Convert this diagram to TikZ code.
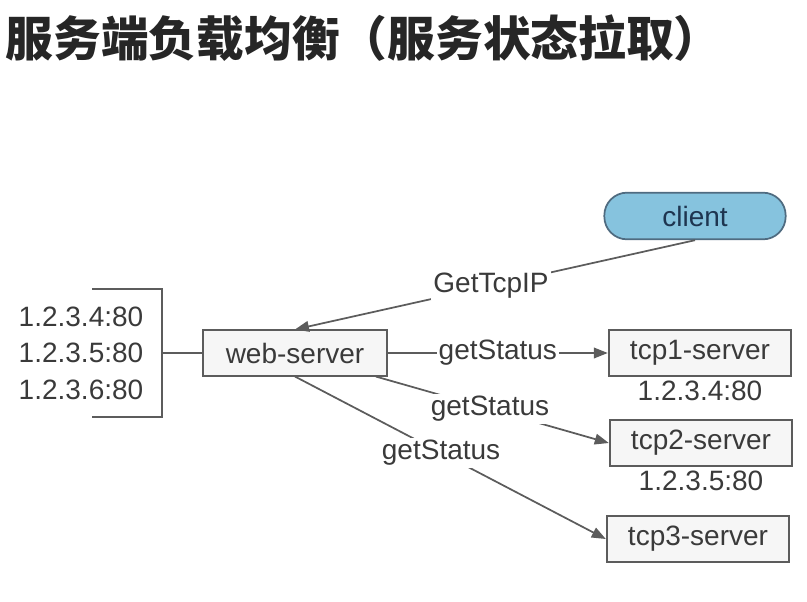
\documentclass[tikz,border=0pt]{standalone}
\usepackage{fontspec}
\setmainfont{Liberation Sans}
\newfontfamily\cjk{Noto Sans CJK SC}
\usetikzlibrary{arrows.meta,positioning}
\definecolor{inkCol}{HTML}{3A3A3A}
\definecolor{lineCol}{HTML}{5C5C5C}
\definecolor{boxCol}{HTML}{F6F6F6}
\definecolor{clientCol}{HTML}{86C3DE}
\definecolor{clientEdge}{HTML}{4F6B80}
\definecolor{clientText}{HTML}{1E3550}

\begin{document}
\begin{tikzpicture}[x=0.75pt,y=0.75pt,>={Triangle[length=10.5pt,width=8pt]},
  font=\fontsize{21}{27.4}\selectfont,text=inkCol,
  srv/.style={draw=lineCol,fill=boxCol,line width=1.3pt,
    minimum width=137pt,minimum height=34pt,inner sep=0pt},
  link/.style={line width=1.3pt,draw=lineCol},
  msg/.style={fill=white,inner sep=1.5pt},
]
\useasboundingbox (0,0) rectangle (807,601);

\node[anchor=west,font=\cjk\bfseries\fontsize{35.8}{40}\selectfont,text=black!85] (title) at (1,563) {服务端负载均衡（服务状态拉取）};

\node[srv,rounded corners=17pt,fill=clientCol,draw=clientEdge,text=clientText,
  minimum width=136pt,minimum height=35pt] (client) at (695,385) {client};
\node[srv,minimum width=138pt] (web) at (295,248) {web-server};
\node[srv] (tcp1) at (700,248) {tcp1-server};
\node[below=0pt of tcp1] (ip1) {1.2.3.4:80};
\node[srv] (tcp2) at (701,158) {tcp2-server};
\node[below=0pt of tcp2] (ip2) {1.2.3.5:80};
\node[srv] (tcp3) at (698,62) {tcp3-server};

\node[align=center] (pool) at (81,248) {1.2.3.4:80\\1.2.3.5:80\\1.2.3.6:80};

% bracket round the address pool
\coordinate (brk) at (162,248);
\draw[link] (92,312) -- (162,312) -- (162,184) -- (92,184);
\draw[link] (brk) -- (web);

\draw[link,->] (client.south) -- node[msg,pos=0.51] {GetTcpIP} (web.north);
\draw[link,->] (web) -- node[msg] {getStatus} (tcp1);
\draw[link,->] ([xshift=-9pt]web.south east) -- node[msg,pos=0.49] {getStatus} (tcp2.west);
\draw[link,->] (web.south) -- node[msg,pos=0.47] {getStatus} (tcp3.west);

\end{tikzpicture}
\end{document}
